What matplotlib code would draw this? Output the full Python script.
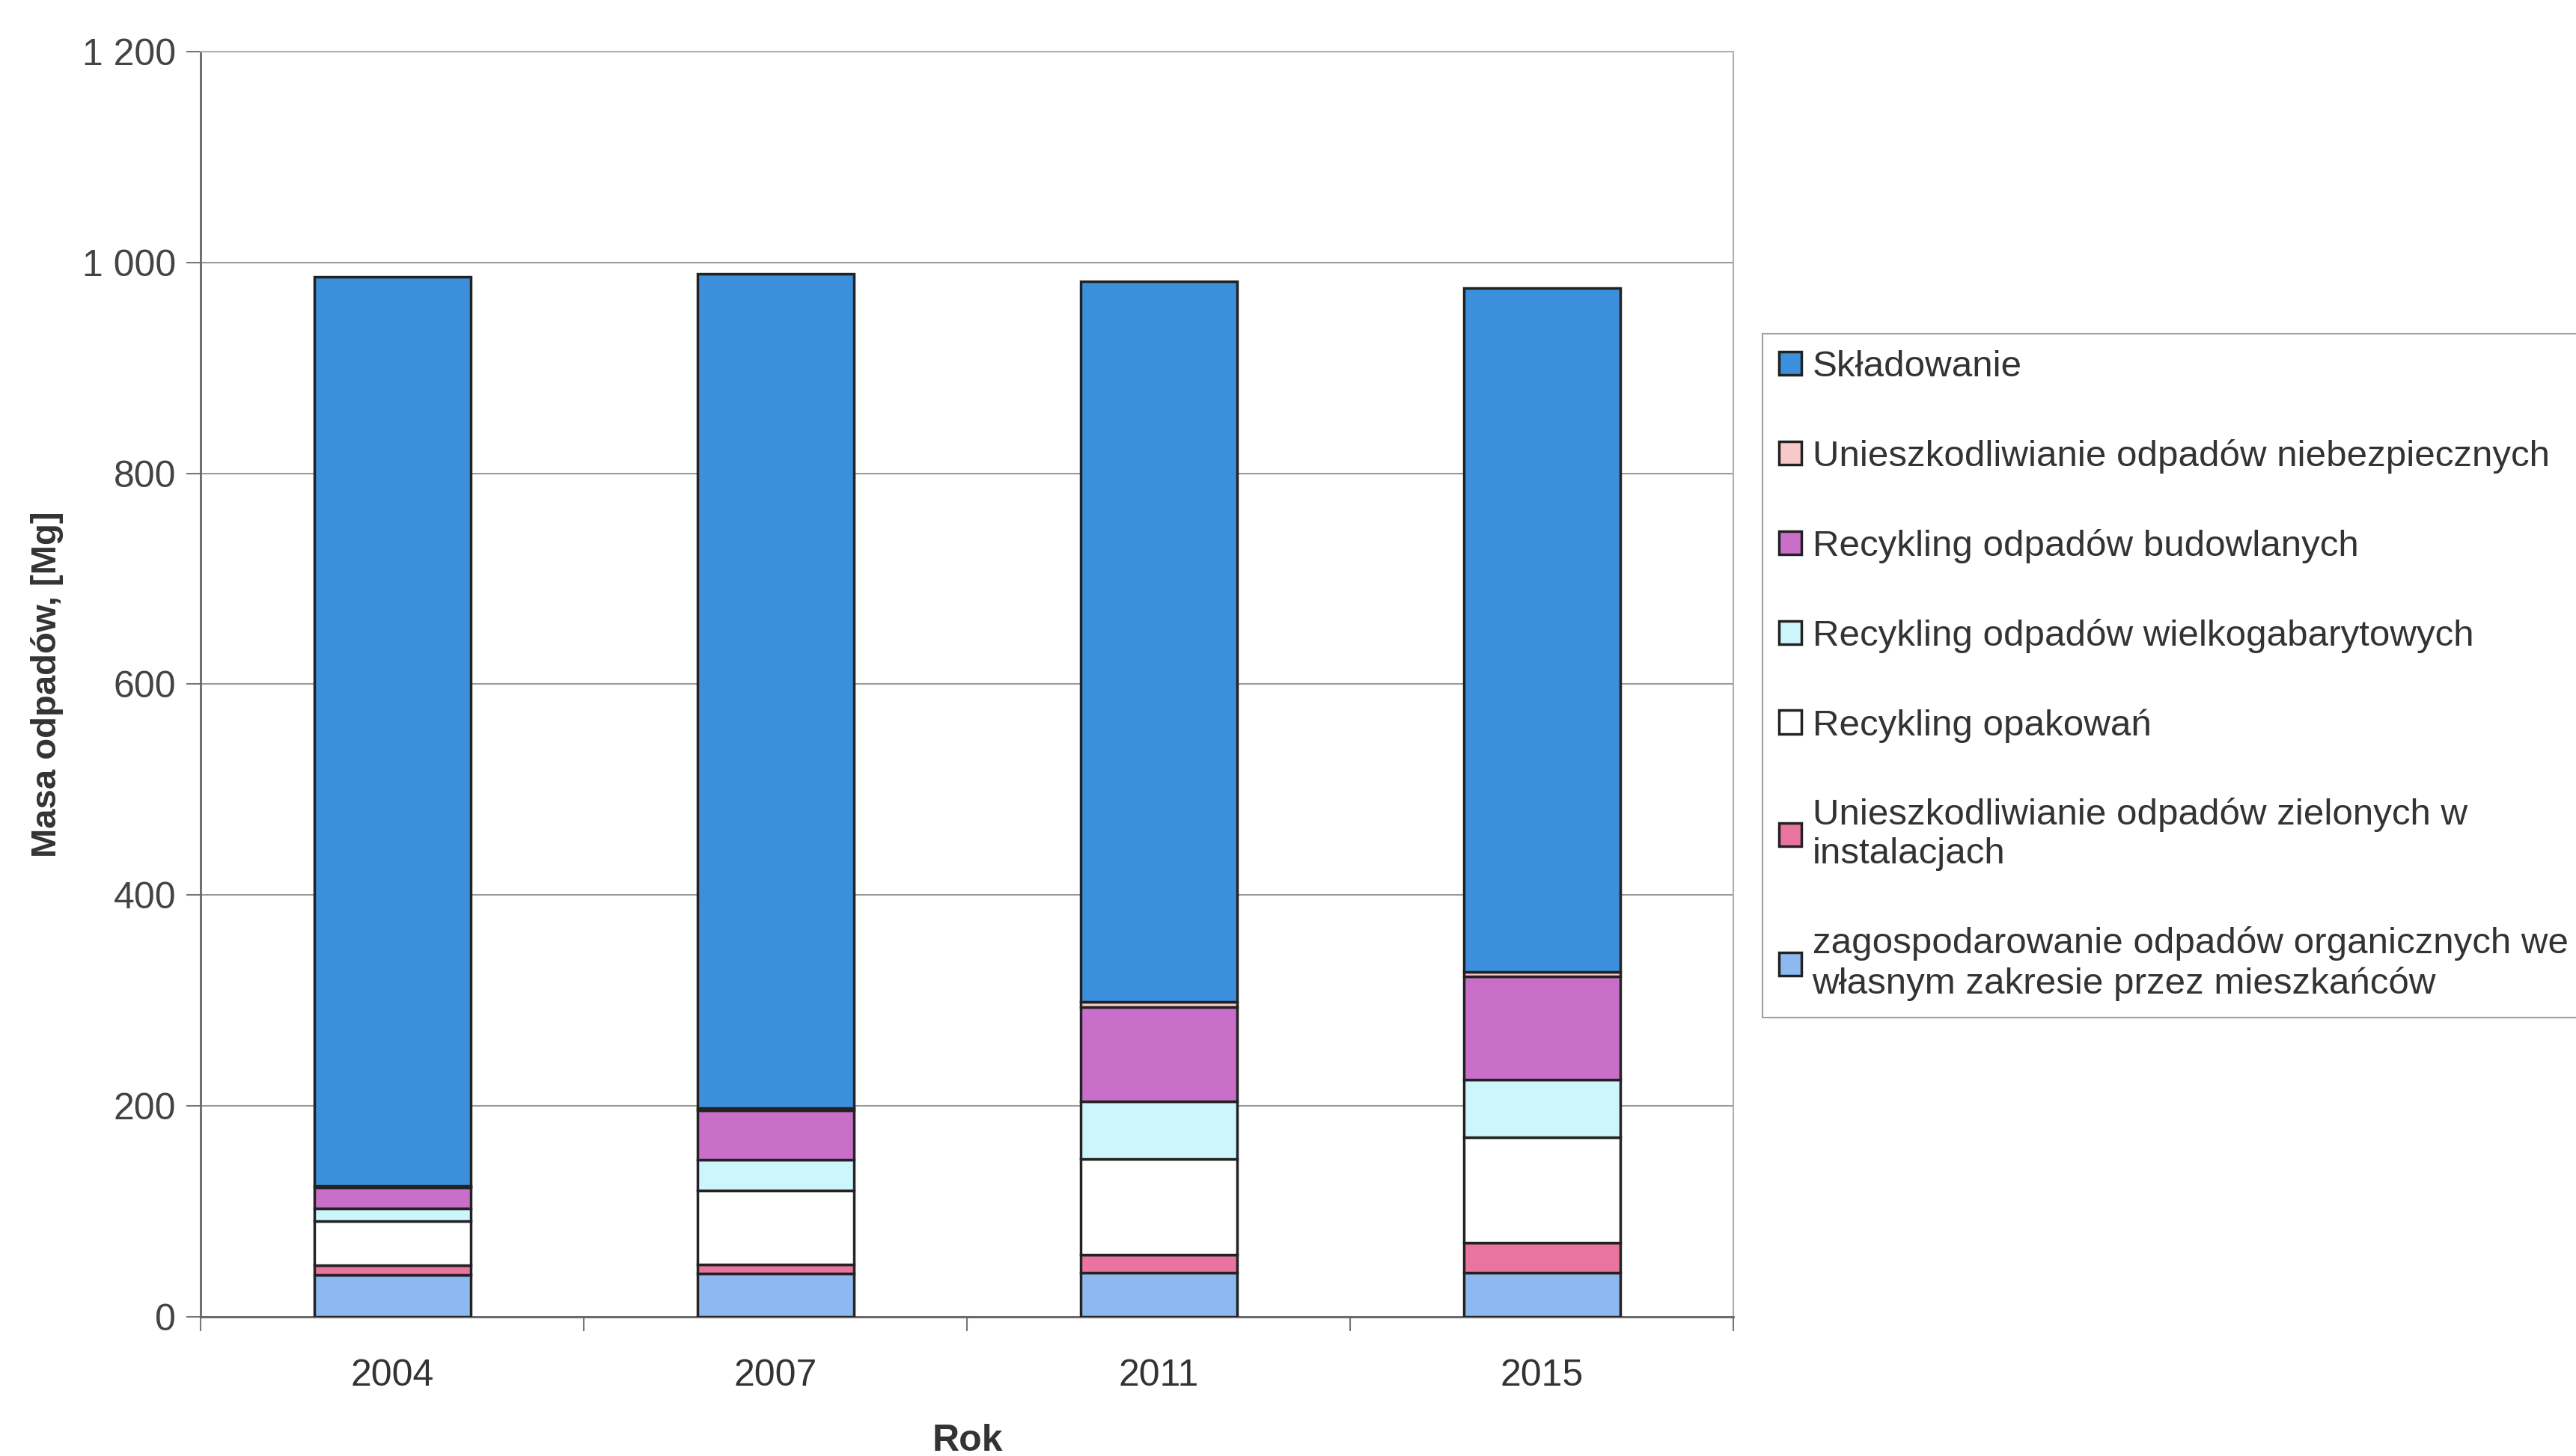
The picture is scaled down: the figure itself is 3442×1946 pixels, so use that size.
import matplotlib.pyplot as plt
import numpy as np

plt.rcParams['font.family'] = ['Liberation Sans', 'DejaVu Sans']

years = ['2004', '2007', '2011', '2015']
organiczne = [40, 41, 42, 42]
zielone = [9, 9, 17, 28]
opakowania = [42, 70, 91, 100]
wielkogabarytowe = [12, 29, 54, 55]
budowlane = [20, 47, 90, 98]
niebezpieczne = [1, 2, 5, 4]
skladowanie = [862, 791, 683, 649]

series = [
    ('zagospodarowanie odpadów organicznych we\nwłasnym zakresie przez mieszkańców', organiczne, '#8DB8F0'),
    ('Unieszkodliwianie odpadów zielonych w\ninstalacjach', zielone, '#E8749F'),
    ('Recykling opakowań', opakowania, '#FFFFFF'),
    ('Recykling odpadów wielkogabarytowych', wielkogabarytowe, '#CCF6FC'),
    ('Recykling odpadów budowlanych', budowlane, '#C96FC9'),
    ('Unieszkodliwianie odpadów niebezpiecznych', niebezpieczne, '#F7C9C9'),
    ('Składowanie', skladowanie, '#3C8FDB'),
]

fig = plt.figure(figsize=(34.42, 19.46), dpi=100)
ax = fig.add_axes([0.078, 0.0956, 0.595, 0.869])

x = np.arange(len(years))
bottom = np.zeros(len(years))
for label, vals, color in series:
    ax.bar(x, vals, width=0.41, bottom=bottom, color=color, edgecolor='#222222',
           linewidth=2.5, label=label, zorder=3)
    bottom += np.array(vals)

ax.set_xlim(-0.5, 3.5)
ax.set_ylim(0, 1200)
ax.set_yticks(range(0, 1201, 200))
ax.set_yticklabels(['0', '200', '400', '600', '800', '1 000', '1 200'])
ax.grid(axis='y', color='#9a9a9a', linewidth=1.5, zorder=0)
ax.set_xticks(x)
ax.set_xticklabels(years)
ax.set_xticks(np.arange(-0.5, 4.0, 1.0), minor=True)
ax.tick_params(axis='x', which='major', length=0, pad=40, labelsize=36, labelcolor='#333333')
ax.tick_params(axis='x', which='minor', length=14, width=1.5, color='#777777')
ax.tick_params(axis='y', length=14, width=1.5, color='#777777', pad=10,
               labelsize=36, labelcolor='#444444')

for side in ['top', 'right']:
    ax.spines[side].set_color('#b0b0b0')
    ax.spines[side].set_linewidth(1.5)
for side in ['left', 'bottom']:
    ax.spines[side].set_color('#666666')
    ax.spines[side].set_linewidth(2)

ax.set_xlabel('Rok', fontsize=36, fontweight='bold', color='#333333', labelpad=30)
ax.set_ylabel('Masa odpadów, [Mg]', fontsize=34, fontweight='bold', color='#333333', labelpad=18)

handles, labels = ax.get_legend_handles_labels()
leg = fig.legend(handles[::-1], labels[::-1], loc='upper left',
                 bbox_to_anchor=(2355 / 3442, 1 - 446 / 1946),
                 fontsize=35.5, frameon=True, fancybox=False, edgecolor='#888888',
                 handlelength=0.6, handleheight=0.6, handletextpad=0.3,
                 labelspacing=1.5, borderpad=0.45, borderaxespad=0)
leg.get_frame().set_linewidth(1.5)
for t in leg.get_texts():
    t.set_color('#333333')

fig.savefig('out.png', dpi=100)
